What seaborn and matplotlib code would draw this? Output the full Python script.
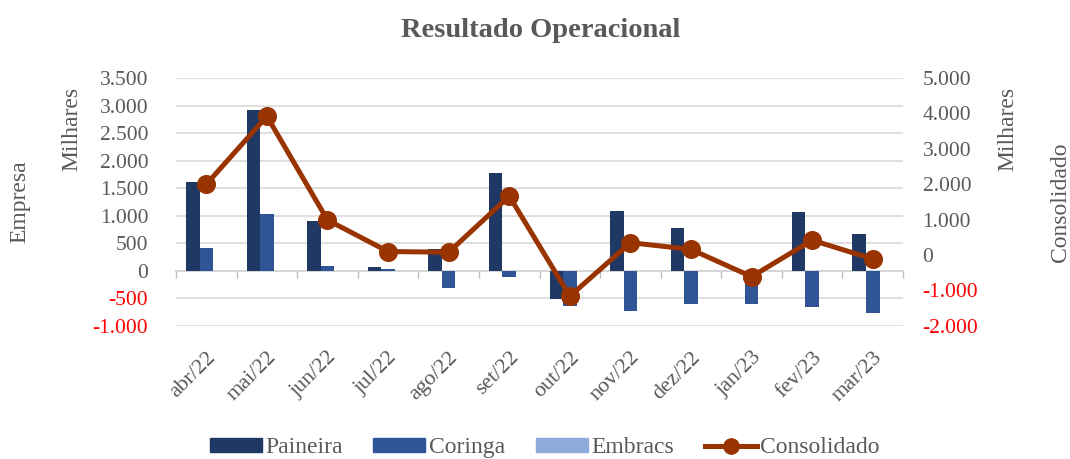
import pandas as pd
import seaborn as sns
import matplotlib.pyplot as plt
from matplotlib.lines import Line2D

# Set the font of the plots
plt.rcParams.update({'font.size': 15, 'font.family': 'Liberation Serif'})

MESES = ['abr/22', 'mai/22', 'jun/22', 'jul/22', 'ago/22', 'set/22',
         'out/22', 'nov/22', 'dez/22', 'jan/23', 'fev/23', 'mar/23']
PAINEIRA = [1615, 2920, 905, 70, 400, 1780, -510, 1090, 780, 0, 1070, 660]
CORINGA = [415, 1035, 90, 30, -310, -110, -640, -735, -600, -610, -650, -765]
EMBRACS = [0, 0, 0, 0, 0, 0, 0, 0, 0, 0, 0, 0]
CONSOLIDADO = [2000, 3920, 990, 100, 80, 1665, -1160, 350, 160, -610, 420, -110]
TICKS_EMPRESA = [-1000, -500, 0, 500, 1000, 1500, 2000, 2500, 3000, 3500]
TICKS_CONSOLIDADO = [-2000, -1000, 0, 1000, 2000, 3000, 4000, 5000]

CORES = {'Paineira': '#203864', 'Coringa': '#2F5597', 'Embracs': '#8FAADC'}
COR_LINHA = '#993300'
COR_TEXTO = '#595959'


def build_data():
    """Build the long-form table of results per company."""
    dfs = []
    for empresa, valores in [('Paineira', PAINEIRA), ('Coringa', CORINGA), ('Embracs', EMBRACS)]:
        dfs.append(pd.DataFrame({'mes': MESES, 'empresa': empresa, 'valor': valores}))
    empresas = pd.concat(dfs)
    consolidado = pd.DataFrame({'mes': MESES, 'valor': CONSOLIDADO})
    return empresas, consolidado


def fmt(v):
    """Format with dot as thousands separator."""
    return f'{v:,.0f}'.replace(',', '.')


def style_yaxis(ax, ticks, pad):
    """Set ticks, labels (negatives in red) and gridlines of a y axis."""
    ax.set_yticks(ticks)
    ax.set_yticklabels([fmt(t) for t in ticks])
    for lbl, t in zip(ax.get_yticklabels(), ticks):
        lbl.set_color('red' if t < 0 else COR_TEXTO)
    ax.tick_params(axis='y', length=0, pad=pad, labelsize=15.5)


def plot_chart(empresas, consolidado):
    """Plot bars per company and the consolidated line on a twin axis."""
    fig = plt.figure(figsize=(10.7, 4.59), dpi=100)
    ax = fig.add_axes([0.1645, 0.29, 0.6795, 0.54])
    sns.barplot(data=empresas, x='mes', y='valor', hue='empresa', palette=CORES,
                saturation=1, width=0.67, errorbar=None, ax=ax)
    ax.get_legend().remove()
    ax.set_ylim(-1000, 3500)
    style_yaxis(ax, TICKS_EMPRESA, 20)
    ax.yaxis.grid(True, color='#d9d9d9', linewidth=1.2)
    ax.set_axisbelow(True)
    for s in ax.spines.values():
        s.set_visible(False)
    ax.set_xlabel('')
    ax.set_ylabel('')
    ax.tick_params(axis='x', length=0, pad=16, labelsize=15.8, labelcolor=COR_TEXTO)
    plt.setp(ax.get_xticklabels(), rotation=45, ha='right', rotation_mode='anchor')

    # category axis crossing at zero
    zero = 1000 / 4500
    sec = ax.secondary_xaxis(zero)
    sec.set_xticks([i - 0.5 for i in range(len(MESES) + 1)])
    sec.set_xticklabels([])
    sec.tick_params(length=5, color='#bfbfbf', width=1)
    sec.spines['bottom'].set_color('#bfbfbf')
    sec.spines['bottom'].set_linewidth(1.2)

    ax2 = ax.twinx()
    sns.pointplot(data=consolidado, x='mes', y='valor', color=COR_LINHA, errorbar=None,
                  markersize=11, linewidth=3.6, ax=ax2)
    ax2.set_ylim(-2000, 5000)
    style_yaxis(ax2, TICKS_CONSOLIDADO, 14)
    for s in ax2.spines.values():
        s.set_visible(False)
    ax2.set_ylabel('')
    ax2.set_xlabel('')

    fig.text(0.019, 0.56, 'Empresa', rotation=90, ha='center', va='center',
             color=COR_TEXTO, fontsize=17)
    fig.text(0.991, 0.56, 'Consolidado', rotation=90, ha='center', va='center',
             color=COR_TEXTO, fontsize=17)
    fig.text(0.067, 0.81, 'Milhares', rotation=90, ha='center', va='top',
             color=COR_TEXTO, fontsize=17)
    fig.text(0.942, 0.81, 'Milhares', rotation=90, ha='center', va='top',
             color=COR_TEXTO, fontsize=17)
    fig.suptitle('Resultado Operacional', x=0.505, y=0.933, va='center', fontsize=20.5,
                 fontweight='bold', color=COR_TEXTO)

    handles = [plt.Rectangle((0, 0), 1, 1, color=CORES[e]) for e in CORES]
    handles.append(Line2D([], [], color=COR_LINHA, linewidth=3.6, marker='o', markersize=11))
    fig.legend(handles, list(CORES) + ['Consolidado'], loc='lower center',
               bbox_to_anchor=(0.509, -0.045), ncol=4, frameon=False, fontsize=17,
               handlelength=2.2, handleheight=0.55, handletextpad=0.15,
               columnspacing=1.3, labelcolor=COR_TEXTO)
    plt.savefig('out.png', dpi=100)


def main():
    """Main function."""
    empresas, consolidado = build_data()
    plot_chart(empresas, consolidado)


if __name__ == "__main__":
    main()
